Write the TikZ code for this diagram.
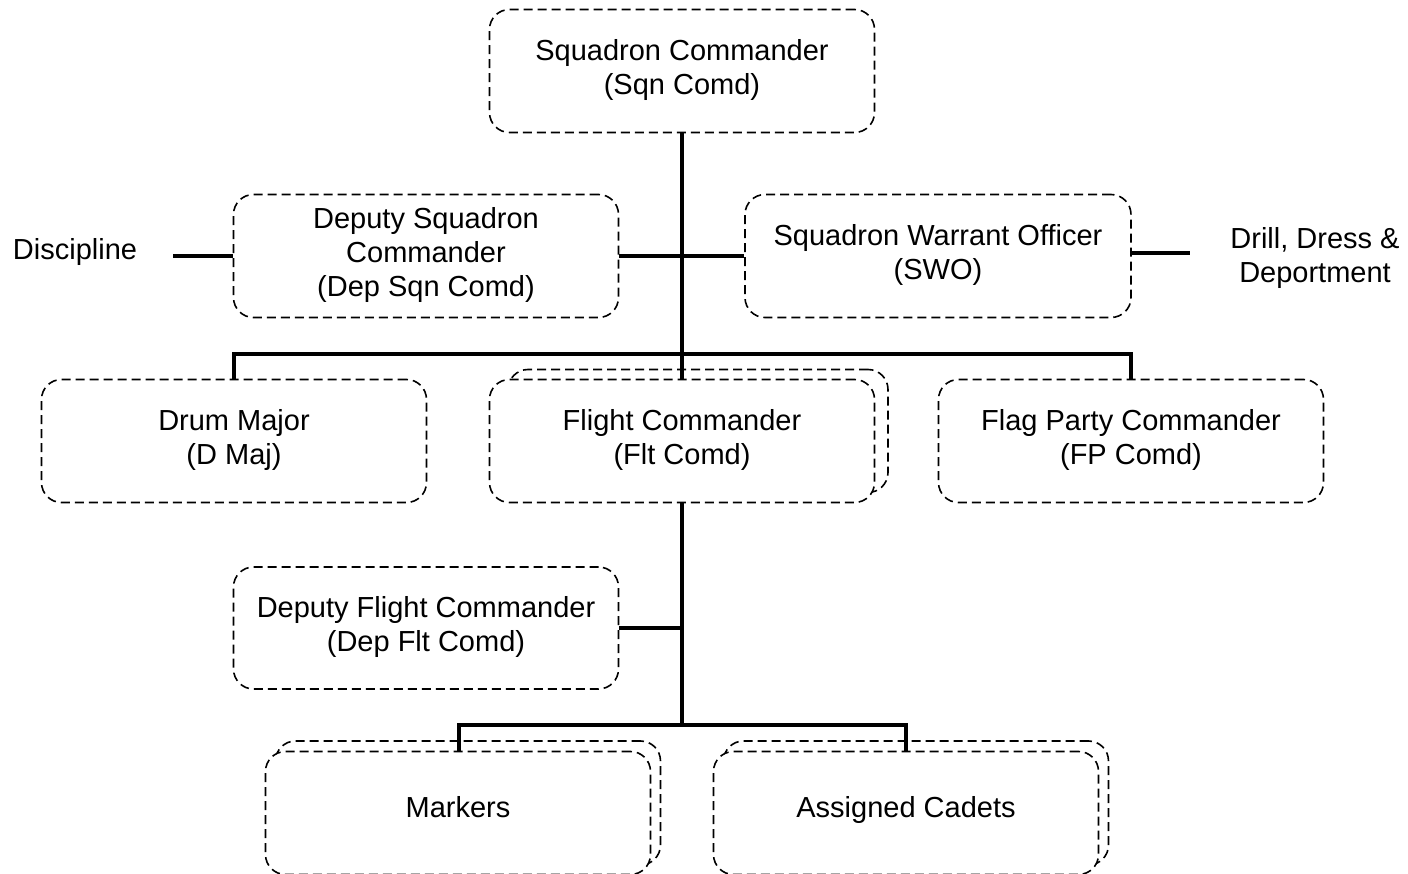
\documentclass[tikz,border=0pt]{standalone}
\usepackage{fontspec}
\setmainfont{Liberation Sans}
\newcommand\bxt[2]{\raisebox{#1}{\begin{tabular}{@{}c@{}}#2\end{tabular}}}
\begin{document}
\begin{tikzpicture}[x=1pt,y=-1pt,
  box/.style={draw, line width=1.6pt, dash pattern=on 9pt off 5pt, rounded corners=20pt,
    minimum width=385pt, minimum height=123pt, align=center, fill=white,
    font=\fontsize{29}{34}\selectfont, inner sep=0pt},
  lbl/.style={align=center, font=\fontsize{29}{34}\selectfont, inner sep=0pt},
  conn/.style={line width=4.5pt}]
\useasboundingbox (0,0) rectangle (1408,874);
% back boxes of stacks
\node[box, minimum width=380pt] (fltb) at (698,431) {};
\node[box, minimum height=124pt] (mrkb) at (468,803) {};
\node[box, minimum height=124pt] (asgb) at (916,803) {};
% main boxes
\node[box] (sqn) at (682,71) {\bxt{7pt}{Squadron Commander\\(Sqn Comd)}};
\node[box] (dsq) at (426,256) {\bxt{0pt}{Deputy Squadron\\Commander\\(Dep Sqn Comd)}};
\node[box, minimum width=386pt] (swo) at (938,256) {\bxt{4pt}{Squadron Warrant Officer\\(SWO)}};
\node[box] (dmj) at (234,441) {\bxt{1pt}{Drum Major\\(D Maj)}};
\node[box] (flt) at (682,441) {\bxt{1pt}{Flight Commander\\(Flt Comd)}};
\node[box] (fpc) at (1131,441) {\bxt{1pt}{Flag Party Commander\\(FP Comd)}};
\node[box, minimum height=122pt] (dfl) at (426,628) {\bxt{7pt}{Deputy Flight Commander\\(Dep Flt Comd)}};
\node[box] (mrk) at (458,813) {\bxt{15pt}{Markers}};
\node[box] (asg) at (906,813) {\bxt{15pt}{Assigned Cadets}};
% side labels
\node[lbl] (dis) at (75,252) {Discipline};
\node[lbl] (ddd) at (1315,258) {Drill, Dress \&\\Deportment};
\coordinate (disl) at (173,256);
\coordinate (dddl) at (1190,253);
% connectors
\coordinate (c2) at (682,628);
\coordinate (c3) at (682,725);
\coordinate (bl) at (234,354);
\coordinate (br) at (1131,354);
\coordinate (ll) at (459,725);
\coordinate (lr) at (906,725);
\draw[conn] (sqn.south) -- (flt.north);
\draw[conn] (dsq.east) -- (swo.west);
\draw[conn] (disl) -- (dsq.west);
\draw[conn] (swo.east |- dddl) -- (dddl);
\draw[conn] (dmj.north) -- (bl) -- (br) -- (fpc.north);
\draw[conn] (flt.south) -- (c3);
\draw[conn] (dfl.east) -- (c2);
\draw[conn] (mrk.north -| ll) -- (ll) -- (lr) -- (asg.north -| lr);
\end{tikzpicture}
\end{document}
